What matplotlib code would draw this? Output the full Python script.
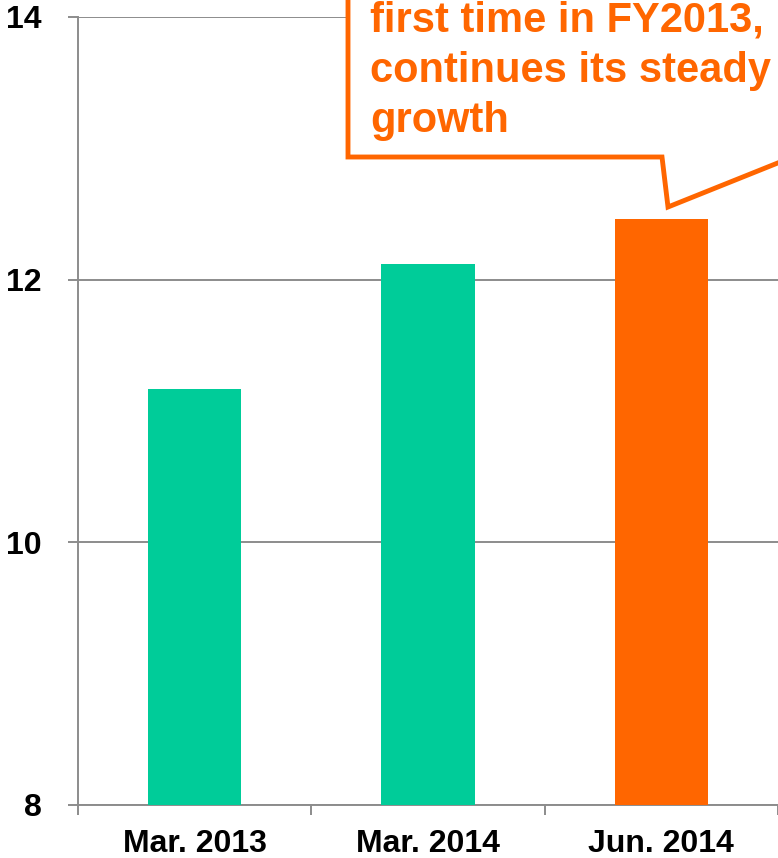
import matplotlib
matplotlib.use("Agg")
import matplotlib.pyplot as plt
from matplotlib.patches import Polygon

# Data
categories = ["Mar. 2013", "Mar. 2014", "Jun. 2014"]
values = [11.17, 12.12, 12.46]
bar_colors = ["#00CC99", "#00CC99", "#FF6600"]
y_ticks = [8, 10, 12, 14]
callout_lines = ["first time in FY2013,", "continues its steady", "growth"]

W, H = 778, 858
fig = plt.figure(figsize=(W / 100, H / 100), dpi=100)

plt.rcParams["font.family"] = ["Liberation Sans", "DejaVu Sans"]

# axes placed in pixel units
left, right, top, bottom = 78, 778, 17, 805
ax = fig.add_axes([left / W, 1 - bottom / H, (right - left) / W, (bottom - top) / H])

x = list(range(len(categories)))
ax.bar(x, values, width=0.4, color=bar_colors, zorder=3)

ax.set_xlim(-0.5, len(categories) - 0.5)
ax.set_ylim(8, 14)
ax.set_yticks(y_ticks)
ax.set_yticklabels([str(t) for t in y_ticks], fontsize=23, fontweight="bold")
ax.set_xticks([i - 0.5 for i in range(len(categories) + 1)])
ax.set_xticklabels([])
ax.set_xticks(x, minor=True)
ax.set_xticklabels(categories, minor=True, fontsize=23, fontweight="bold")

grid_c = "#8C8C8C"
ax.yaxis.grid(True, color=grid_c, linewidth=1.4, zorder=0)
ax.set_axisbelow(True)
for s in ["top", "right"]:
    ax.spines[s].set_visible(False)
for s in ["left", "bottom"]:
    ax.spines[s].set_color(grid_c)
    ax.spines[s].set_linewidth(1.4)

ax.tick_params(axis="y", which="major", length=7, width=1.4, color=grid_c, pad=19)
ax.tick_params(axis="x", which="major", length=7, width=1.4, color=grid_c, direction="out")
ax.tick_params(axis="x", which="minor", length=0, pad=17)

# callout box with a tail pointing at the last bar (pixel coordinates)
def fig_pt(px, py):
    return (px / W, 1 - py / H)

orange = "#FF6600"
pts = [(348, -20), (348, 157), (662, 157), (668, 207), (850, 134), (850, -20)]
callout = Polygon([fig_pt(*p) for p in pts], closed=True, transform=fig.transFigure,
                  facecolor="white", edgecolor=orange, linewidth=3.5, joinstyle="miter",
                  zorder=10)
fig.patches.append(callout)

for i, line in enumerate(callout_lines):
    fx, fy = fig_pt(370, 32 + 50 * i)
    fig.text(fx, fy, line, fontsize=30, fontweight="bold", color=orange,
             ha="left", va="baseline", zorder=11)

fig.savefig("out.png", dpi=100)
